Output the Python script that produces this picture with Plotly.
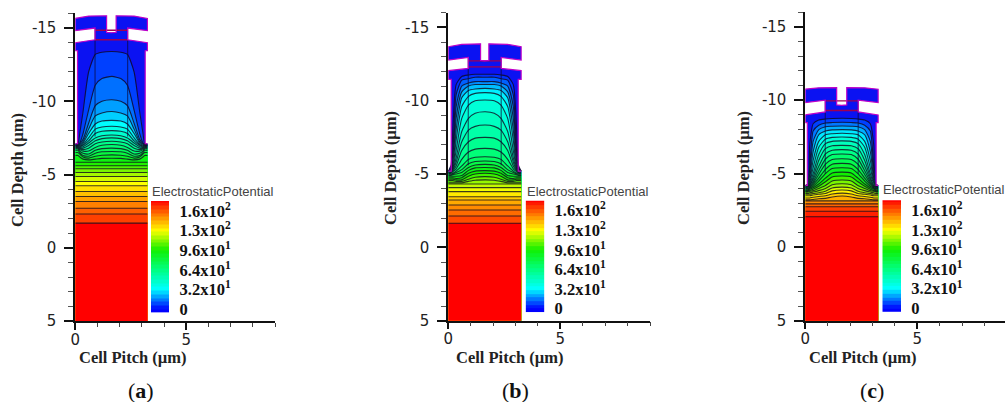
import plotly.graph_objects as go
from plotly.colors import sample_colorscale

W, H = 1005, 402
PITCH = 3.25

# potential colour scale (value, colour)
scale_values = [0, 32, 64, 96, 128, 152, 176]
scale_colors = ["#0000ff", "#00ffff", "#00ff80", "#10f000", "#ffff00", "#ff8000", "#ff0000"]
legend_levels = [-3, 3, 9, 15, 21, 27, 33, 39, 45, 51, 57, 63, 69, 75, 81, 87, 93, 99, 105, 111,
                 117, 123, 129, 135, 141, 147, 153, 159, 165, 171, 176]
legend_ticks = [0, 32, 64, 96, 128, 160]
legend_labels = ["0", "3.2x10<sup>1</sup>", "6.4x10<sup>1</sup>", "9.6x10<sup>1</sup>",
                 "1.3x10<sup>2</sup>", "1.6x10<sup>2</sup>"]

y_ticks = [-15, -10, -5, 0, 5]
y_labels = ["-15", "-10", "-5", "0", "5"]
x_ticks = [0, 5]

# half-width stations of the contour rows (µm)
stations = [0.12, 0.2, 0.35, 0.6, 0.9, 1.2, 1.65]

# half outline of the cell: left wall, gap, cap, notch
a_outline_x = [0, 0, 0.1, 0.1, 0, 0, 0.89, 0.89, 0, 0, 0.6, 1.41, 1.41, 1.62]
a_outline_y = [5, -7.1, -7.1, -13.45, -13.45, -14.0, -14.2, -15.0, -14.82, -15.66, -15.82, -15.84, -14.7, -14.68]
b_outline_x = [0, 0, 0.13, 0.13, 0, 0, 0.89, 0.89, 0, 0, 0.6, 1.44, 1.44, 1.62]
b_outline_y = [5, -5.2, -5.2, -11.45, -11.45, -12.05, -12.2, -12.95, -12.77, -13.68, -13.84, -13.88, -12.75, -12.72]
c_outline_x = [0, 0, 0.09, 0.09, 0, 0, 0.89, 0.89, 0, 0, 0.6, 1.4, 1.4, 1.62]
c_outline_y = [5, -4.2, -4.2, -8.48, -8.48, -9.0, -9.2, -10.0, -9.84, -10.75, -10.84, -10.86, -9.68, -9.65]

# depth of the gate column's side lines and its inner lines
a_column = [-15.0, -7.6]
b_column = [-12.9, -5.6]
c_column = [-10.0, -5.0]
a_gate_red = [-14.85, -14.2]
b_gate_red = [-12.72, -12.3]
c_gate_red = [-9.95, -9.3]

# contour rows: potential level, then depth at each station
a_levels = [8, 14, 20, 26, 32, 38, 44, 50, 56, 62, 68, 74, 80, 86, 92, 98, 104, 110, 116, 122,
            128, 134, 140, 146, 152, 158, 164, 176]
a_rows = [
    [-7.1, -7.8, -9.3, -12.0, -13.2, -13.35, -13.4],
    [-7.05, -7.15, -7.8, -9.4, -11.1, -11.55, -11.7],
    [-7.0, -7.1, -7.4, -8.5, -9.7, -10.0, -10.1],
    [-7.0, -7.05, -7.25, -8.1, -9.0, -9.2, -9.3],
    [-6.95, -7.0, -7.15, -7.8, -8.45, -8.65, -8.7],
    [-6.95, -6.95, -7.05, -7.5, -8.1, -8.25, -8.3],
    [-6.95, -6.9, -7.0, -7.3, -7.8, -7.95, -8.0],
    [-6.9, -6.85, -6.9, -7.15, -7.5, -7.65, -7.7],
    [-6.9, -6.8, -6.8, -6.98, -7.3, -7.45, -7.5],
    [-6.85, -6.75, -6.7, -6.8, -7.1, -7.22, -7.27],
    [-6.8, -6.7, -6.6, -6.6, -6.85, -7.0, -7.05],
    [-6.75, -6.6, -6.45, -6.4, -6.65, -6.77, -6.8],
    [-6.65, -6.5, -6.3, -6.25, -6.45, -6.55, -6.57],
    [-6.5, -6.4, -6.2, -6.12, -6.25, -6.32, -6.34],
    [-6.3, -6.2, -6.05, -6.0, -6.05, -6.1, -6.11],
    [-5.84] * 7, [-5.6] * 7, [-5.39] * 7, [-5.14] * 7, [-4.86] * 7, [-4.52] * 7,
    [-4.23] * 7, [-3.84] * 7, [-3.5] * 7, [-3.16] * 7, [-2.7] * 7, [-2.3] * 7, [-1.68] * 7,
]

b_levels = [6, 12, 18, 24, 30, 36, 42, 48, 54, 60, 66, 72, 78, 84, 90, 96, 102, 108, 114, 120,
            126, 132, 138, 144, 150, 156, 162, 176]
b_rows = [
    [-5.6, -8.0, -11.1, -11.65, -11.75, -11.8, -11.8],
    [-5.4, -6.5, -10.4, -11.4, -11.5, -11.6, -11.6],
    [-5.3, -5.9, -9.6, -11.0, -11.2, -11.3, -11.3],
    [-5.25, -5.6, -8.8, -10.6, -11.0, -11.1, -11.1],
    [-5.2, -5.45, -8.0, -10.2, -10.7, -10.8, -10.84],
    [-5.2, -5.4, -7.3, -9.6, -10.3, -10.5, -10.55],
    [-5.15, -5.35, -6.6, -8.8, -9.7, -10.0, -10.05],
    [-5.1, -5.3, -6.1, -7.9, -8.8, -9.15, -9.25],
    [-5.1, -5.25, -5.8, -7.2, -8.0, -8.25, -8.34],
    [-5.05, -5.2, -5.55, -6.6, -7.2, -7.45, -7.5],
    [-5.05, -5.15, -5.35, -6.0, -6.5, -6.7, -6.75],
    [-5.0, -5.05, -5.2, -5.55, -6.0, -6.14, -6.18],
    [-4.95, -5.0, -5.1, -5.3, -5.7, -5.85, -5.89],
    [-4.9, -4.95, -5.0, -5.1, -5.45, -5.62, -5.66],
    [-4.85, -4.85, -4.85, -4.9, -5.25, -5.42, -5.45],
    [-4.75, -4.75, -4.7, -4.75, -5.05, -5.2, -5.23],
    [-4.65, -4.65, -4.6, -4.6, -4.85, -5.0, -5.05],
    [-4.55, -4.55, -4.5, -4.5, -4.65, -4.78, -4.82],
    [-4.4, -4.4, -4.4, -4.4, -4.5, -4.58, -4.6],
    [-4.32] * 7, [-4.07] * 7, [-3.8] * 7, [-3.45] * 7, [-3.23] * 7, [-2.89] * 7,
    [-2.55] * 7, [-2.14] * 7, [-1.64] * 7,
]

c_levels = [8, 15, 22, 29, 35, 42, 49, 56, 62, 69, 76, 83, 89, 96, 103, 110, 116, 123, 130, 137,
            143, 150, 157, 164, 170, 176]
c_rows = [
    [-4.3, -7.0, -8.4, -8.65, -8.72, -8.75, -8.77],
    [-4.25, -5.5, -7.9, -8.3, -8.45, -8.48, -8.5],
    [-4.2, -5.0, -7.2, -8.0, -8.2, -8.23, -8.25],
    [-4.2, -4.7, -6.5, -7.65, -7.9, -7.98, -8.0],
    [-4.15, -4.5, -5.9, -7.2, -7.65, -7.72, -7.75],
    [-4.15, -4.4, -5.4, -6.8, -7.35, -7.47, -7.5],
    [-4.1, -4.3, -5.0, -6.3, -7.05, -7.2, -7.23],
    [-4.1, -4.25, -4.75, -5.9, -6.7, -6.9, -6.93],
    [-4.05, -4.2, -4.6, -5.5, -6.35, -6.6, -6.64],
    [-4.05, -4.15, -4.45, -5.2, -6.0, -6.3, -6.34],
    [-4.0, -4.1, -4.35, -4.95, -5.65, -5.97, -6.02],
    [-3.95, -4.05, -4.25, -4.7, -5.3, -5.65, -5.7],
    [-3.9, -4.0, -4.15, -4.5, -5.0, -5.35, -5.4],
    [-3.85, -3.95, -4.05, -4.3, -4.7, -5.05, -5.11],
    [-3.8, -3.85, -3.95, -4.15, -4.45, -4.78, -4.84],
    [-3.75, -3.8, -3.85, -4.0, -4.2, -4.5, -4.57],
    [-3.65, -3.7, -3.75, -3.85, -4.0, -4.25, -4.32],
    [-3.6, -3.6, -3.65, -3.7, -3.8, -4.03, -4.09],
    [-3.5, -3.5, -3.55, -3.6, -3.65, -3.83, -3.89],
    [-3.35, -3.35, -3.4, -3.45, -3.5, -3.62, -3.68],
    [-3.22, -3.22, -3.25, -3.3, -3.32, -3.42, -3.48],
    [-3.15] * 7, [-2.95] * 7, [-2.75] * 7, [-2.45] * 7, [-2.07] * 7,
]

colorscale = [[v / 176, c] for v, c in zip(scale_values, scale_colors)]
colors_of = lambda lv: sample_colorscale(colorscale, [v / 176 for v in lv])

# layout in pixels of the page (left, right, top, bottom)
panels = [
    dict(box=(75.3, 275.0, 13.4, 321.0), xmax=9.0, lab=(151, 169.3, 201, 312.7), outline=(a_outline_x, a_outline_y),
         column=a_column, red=a_gate_red, levels=a_levels, rows=a_rows,
         xt=133, yt=170, yx=18, title_x=213, legend_y=191, cap=141, capname="a"),
    dict(box=(448.3, 650.0, 12.7, 320.7), xmax=9.0, lab=(525.6, 544.3, 200.7, 312.3), outline=(b_outline_x, b_outline_y),
         column=b_column, red=b_gate_red, levels=b_levels, rows=b_rows,
         xt=510, yt=168, yx=390, title_x=588, legend_y=191, cap=515, capname="b"),
    dict(box=(805.3, 1005.0, 12.0, 320.7), xmax=8.91, lab=(882.3, 901, 200.3, 312), outline=(c_outline_x, c_outline_y),
         column=c_column, red=c_gate_red, levels=c_levels, rows=c_rows,
         xt=863, yt=168, yx=743, title_x=944, legend_y=190, cap=872, capname="c"),
]

fig = go.Figure()
layout = {}
annotations = []
fx = lambda px: px / W
fy = lambda py: 1 - py / H
TICK = "#222222"

for i, p in enumerate(panels):
    n = i + 1
    xa, ya = f"x{n}", f"y{n}"
    ox, oy = p["outline"]
    mx = [PITCH - v for v in reversed(ox)]
    outline_x = list(ox) + mx
    outline_y = list(oy) + list(reversed(oy))
    # device body
    fig.add_trace(go.Scatter(x=outline_x, y=outline_y, mode="lines", fill="toself", fillcolor="#0b12f2",
                             line=dict(width=0), xaxis=xa, yaxis=ya, hoverinfo="skip", showlegend=False))
    wall = oy[1]
    colors = colors_of(p["levels"])
    for row, col in zip(p["rows"], colors):
        rx = stations + [PITCH - s for s in reversed(stations[:-1])]
        ry = row + list(reversed(row[:-1]))
        edge = max(row[0], wall)
        fig.add_trace(go.Scatter(x=[0, 0] + rx + [PITCH, PITCH], y=[5, edge] + ry + [edge, 5], mode="lines",
                                 fill="toself", fillcolor=col, line=dict(width=0), xaxis=xa, yaxis=ya,
                                 hoverinfo="skip", showlegend=False))
        fig.add_trace(go.Scatter(x=[0] + rx + [PITCH], y=[edge] + ry + [edge], mode="lines",
                                 line=dict(width=1.1, color="rgba(15,10,30,0.8)", shape="spline", smoothing=0.6),
                                 xaxis=xa, yaxis=ya, hoverinfo="skip", showlegend=False))
    # gate column lines
    g_left, g_right = ox[6], PITCH - ox[6]
    for gx in (g_left, g_right):
        fig.add_trace(go.Scatter(x=[gx, gx], y=p["column"], mode="lines",
                                 line=dict(width=1.1, color="rgba(10,10,60,0.7)"), xaxis=xa, yaxis=ya,
                                 hoverinfo="skip", showlegend=False))
    for gy in p["red"]:
        fig.add_trace(go.Scatter(x=[g_left, g_right], y=[gy, gy], mode="lines",
                                 line=dict(width=1.3, color="#a00050"), xaxis=xa, yaxis=ya,
                                 hoverinfo="skip", showlegend=False))
    # magenta edge of the upper structure
    fig.add_trace(go.Scatter(x=outline_x[1:-1], y=outline_y[1:-1], mode="lines",
                             line=dict(width=1.2, color="#c000c8"), xaxis=xa, yaxis=ya,
                             hoverinfo="skip", showlegend=False))

    l, r, t, b = p["box"]
    layout[f"xaxis{n if n > 1 else ''}"] = dict(
        domain=[fx(l), fx(r)], range=[0, p["xmax"]], anchor=ya, showgrid=False, zeroline=False,
        showline=True, linecolor="#111111", linewidth=1.5, ticks="outside", ticklen=7, tickwidth=1.5, tickcolor="#111111",
        ticklabelstandoff=-3,
        tickvals=x_ticks, ticktext=[str(v) for v in x_ticks], tickfont=dict(family="DejaVu Sans", size=15, color=TICK),
        minor=dict(dtick=1, ticks="outside", ticklen=4, tickwidth=1, tickcolor="#444444"))
    layout[f"yaxis{n if n > 1 else ''}"] = dict(
        domain=[fy(b), fy(t)], range=[5, -16], anchor=xa, showgrid=False, zeroline=False,
        showline=True, linecolor="#111111", linewidth=1.8, ticks="outside", ticklen=9, tickwidth=1.5, tickcolor="#111111",
        ticklabelstandoff=5,
        tickvals=y_ticks, ticktext=y_labels, tickfont=dict(family="DejaVu Sans", size=15, color=TICK),
        minor=dict(dtick=1, ticks="outside", ticklen=5, tickwidth=1, tickcolor="#555555"))

    # legend bar
    m = n + 3
    ll, lr, lt, lb = p["lab"]
    fig.add_trace(go.Heatmap(x=[0], y=legend_levels, z=[[v] for v in legend_levels], zmin=0, zmax=176,
                             colorscale=colorscale, showscale=False, xaxis=f"x{m}", yaxis=f"y{m}",
                             hoverinfo="skip"))
    layout[f"xaxis{m}"] = dict(domain=[fx(ll), fx(lr)], anchor=f"y{m}", visible=False)
    layout[f"yaxis{m}"] = dict(domain=[fy(lb), fy(lt)], anchor=f"x{m}", side="right", range=[-6, 176],
                               showgrid=False, zeroline=False, showline=False, ticks="outside", ticklen=6,
                               tickcolor="rgba(0,0,0,0)", tickvals=legend_ticks, ticktext=legend_labels,
                               tickfont=dict(family="Liberation Serif", size=16.5, color="#111111", weight="bold"))

    common = dict(xref="paper", yref="paper", showarrow=False, xanchor="center", yanchor="middle")
    annotations.append(dict(common, x=fx(p["xt"]), y=fy(357), text="<b>Cell Pitch (µm)</b>",
                            font=dict(family="Liberation Serif", size=16.5, color="#222222")))
    annotations.append(dict(common, x=fx(p["yx"]), y=fy(p["yt"]), text="<b>Cell Depth (µm)</b>", textangle=-90,
                            font=dict(family="Liberation Serif", size=16.5, color="#222222")))
    annotations.append(dict(common, x=fx(p["title_x"]), y=fy(p["legend_y"]), text="ElectrostaticPotential",
                            font=dict(family="Liberation Sans", size=13, color="#444444")))
    annotations.append(dict(common, x=fx(p["cap"]), y=fy(390), text=f"(<b>{p['capname']}</b>)",
                            font=dict(family="Liberation Serif", size=22, color="#111111")))

fig.update_layout(width=W, height=H, margin=dict(l=0, r=0, t=0, b=0, autoexpand=False), paper_bgcolor="white", plot_bgcolor="white",
                  showlegend=False, annotations=annotations, **layout)
fig.write_html("out.html", config={"displayModeBar": False},
               post_script="document.body.style.margin='0';document.documentElement.style.overflow='hidden';")
